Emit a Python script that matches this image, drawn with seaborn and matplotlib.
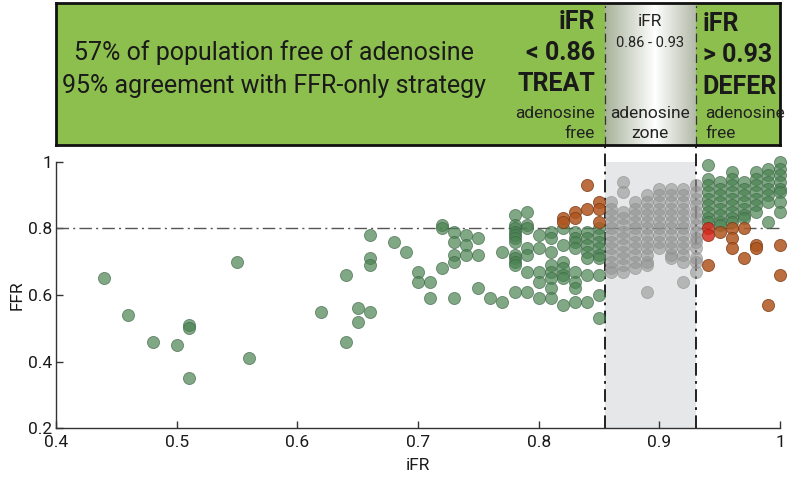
import numpy as np
import pandas as pd
import matplotlib
matplotlib.use("Agg")
import matplotlib.pyplot as plt
import seaborn as sns
from matplotlib.colors import LinearSegmentedColormap

# ---------------- data ----------------
green_ifr = [0.44, 0.46, 0.48, 0.50, 0.51, 0.51, 0.51, 0.55, 0.56, 0.62, 0.64, 0.64, 0.65, 0.65,
             0.66, 0.66, 0.66, 0.66, 0.68, 0.69, 0.70, 0.70, 0.71, 0.71, 0.72, 0.72, 0.72,
             0.73, 0.73, 0.73, 0.73, 0.73, 0.74, 0.74, 0.74, 0.75, 0.75, 0.75, 0.76, 0.77, 0.77,
             0.78, 0.78, 0.78, 0.78, 0.78, 0.78, 0.78, 0.78, 0.78, 0.78, 0.78, 0.78,
             0.79, 0.79, 0.79, 0.79, 0.79, 0.79, 0.79,
             0.80, 0.80, 0.80, 0.80, 0.80,
             0.81, 0.81, 0.81, 0.81, 0.81, 0.81, 0.81, 0.81,
             0.82, 0.82, 0.82, 0.82, 0.82, 0.82, 0.82,
             0.83, 0.83, 0.83, 0.83, 0.83, 0.83, 0.83, 0.83,
             0.84, 0.84, 0.84, 0.84, 0.84, 0.84, 0.84,
             0.85, 0.85, 0.85, 0.85, 0.85, 0.85, 0.85, 0.85, 0.85,
             0.94, 0.94, 0.94, 0.94, 0.94, 0.94, 0.94, 0.94, 0.94,
             0.95, 0.95, 0.95, 0.95, 0.95, 0.95, 0.95, 0.95,
             0.96, 0.96, 0.96, 0.96, 0.96, 0.96, 0.96, 0.96, 0.96,
             0.97, 0.97, 0.97, 0.97, 0.97, 0.97, 0.97,
             0.98, 0.98, 0.98, 0.98, 0.98, 0.98, 0.98,
             0.99, 0.99, 0.99, 0.99, 0.99, 0.99, 0.99,
             1.00, 1.00, 1.00, 1.00, 1.00, 1.00, 1.00, 1.00]
green_ffr = [0.65, 0.54, 0.46, 0.45, 0.51, 0.50, 0.35, 0.70, 0.41, 0.55, 0.66, 0.46, 0.56, 0.52,
             0.78, 0.71, 0.69, 0.55, 0.76, 0.73, 0.67, 0.64, 0.64, 0.59, 0.81, 0.80, 0.68,
             0.79, 0.76, 0.72, 0.70, 0.59, 0.78, 0.75, 0.72, 0.77, 0.72, 0.62, 0.59, 0.73, 0.58,
             0.84, 0.81, 0.80, 0.79, 0.78, 0.77, 0.76, 0.72, 0.71, 0.70, 0.69, 0.61,
             0.85, 0.81, 0.80, 0.74, 0.72, 0.67, 0.61,
             0.78, 0.74, 0.67, 0.64, 0.59,
             0.79, 0.77, 0.73, 0.69, 0.67, 0.65, 0.62, 0.59,
             0.80, 0.75, 0.70, 0.68, 0.66, 0.65, 0.57,
             0.79, 0.77, 0.76, 0.74, 0.67, 0.64, 0.62, 0.58,
             0.79, 0.77, 0.75, 0.73, 0.71, 0.66, 0.58,
             0.80, 0.78, 0.76, 0.74, 0.72, 0.71, 0.66, 0.60, 0.53,
             0.99, 0.95, 0.93, 0.91, 0.89, 0.87, 0.85, 0.83, 0.82,
             0.94, 0.92, 0.90, 0.88, 0.86, 0.84, 0.82, 0.81,
             0.97, 0.95, 0.93, 0.91, 0.89, 0.87, 0.85, 0.83, 0.82,
             0.94, 0.92, 0.90, 0.88, 0.86, 0.84, 0.83,
             0.97, 0.95, 0.93, 0.91, 0.89, 0.87, 0.85,
             0.98, 0.96, 0.94, 0.92, 0.90, 0.88, 0.82,
             1.00, 0.98, 0.96, 0.94, 0.92, 0.91, 0.88, 0.85]

gray_ifr = [0.86] * 12 + [0.87] * 12 + [0.88] * 11 + [0.89] * 13 + [0.90] * 10 + [0.91] * 12 + [0.92] * 13 + [0.93] * 14
gray_ffr = [0.88, 0.86, 0.84, 0.82, 0.80, 0.78, 0.76, 0.74, 0.72, 0.70, 0.68, 0.67,
            0.94, 0.91, 0.85, 0.83, 0.81, 0.79, 0.77, 0.75, 0.73, 0.71, 0.69, 0.67,
            0.88, 0.86, 0.84, 0.82, 0.80, 0.78, 0.76, 0.74, 0.72, 0.70, 0.68,
            0.90, 0.88, 0.86, 0.84, 0.82, 0.80, 0.78, 0.76, 0.74, 0.72, 0.70, 0.69, 0.61,
            0.92, 0.90, 0.88, 0.86, 0.84, 0.82, 0.80, 0.78, 0.76, 0.74,
            0.92, 0.90, 0.88, 0.86, 0.84, 0.82, 0.80, 0.78, 0.76, 0.74, 0.72, 0.71,
            0.92, 0.90, 0.88, 0.86, 0.84, 0.82, 0.80, 0.78, 0.76, 0.74, 0.72, 0.70, 0.64,
            0.93, 0.91, 0.89, 0.87, 0.85, 0.83, 0.81, 0.79, 0.77, 0.76, 0.74, 0.71, 0.70, 0.67]

orange_ifr = [0.82, 0.82, 0.83, 0.83, 0.84, 0.84, 0.85, 0.85, 0.85,
              0.94, 0.95, 0.96, 0.96, 0.96, 0.97, 0.97, 0.98, 0.98, 0.99, 1.00, 1.00]
orange_ffr = [0.83, 0.82, 0.85, 0.83, 0.93, 0.86, 0.88, 0.86, 0.82,
              0.69, 0.79, 0.80, 0.77, 0.74, 0.80, 0.71, 0.75, 0.74, 0.57, 0.75, 0.66]

red_ifr = [0.94, 0.94]
red_ffr = [0.80, 0.78]

x_ticks = [0.4, 0.5, 0.6, 0.7, 0.8, 0.9, 1.0]
x_tick_labels = ["0.4", "0.5", "0.6", "0.7", "0.8", "0.9", "1"]
y_ticks = [0.2, 0.4, 0.6, 0.8, 1.0]
y_tick_labels = ["0.2", "0.4", "0.6", "0.8", "1"]
zone_lo, zone_hi = 0.855, 0.93
ffr_cut = 0.8

df = pd.concat([
    pd.DataFrame({"iFR": gray_ifr, "FFR": gray_ffr, "group": "zone"}),
    pd.DataFrame({"iFR": green_ifr, "FFR": green_ffr, "group": "agree"}),
    pd.DataFrame({"iFR": orange_ifr, "FFR": orange_ffr, "group": "disagree"}),
    pd.DataFrame({"iFR": red_ifr, "FFR": red_ffr, "group": "red"}),
], ignore_index=True)

# ---------------- style ----------------
sns.set_style("white")
plt.rcParams["font.family"] = ["Roboto", "DejaVu Sans"]
TXT = "#1a1a1a"

fig = plt.figure(figsize=(8, 4.82), dpi=100)
ax = fig.add_axes([0.07, 0.112, 0.905, 0.552])

ax.axvspan(zone_lo, zone_hi, color="#e6e7e8", lw=0, zorder=0)
ax.axhline(ffr_cut, color="#555555", lw=1.0, ls=(0, (9, 3, 1.5, 3)), zorder=1)
for xv in (zone_lo, zone_hi):
    ax.axvline(xv, ymin=0, ymax=1.064, color="#111111", lw=1.3,
               ls=(0, (7, 3, 1.5, 3)), clip_on=False, zorder=1)

styles = {
    "zone": dict(color="#949494", edgecolor="#8c8c8c", alpha=0.6, zorder=2),
    "agree": dict(color="#4a8352", edgecolor="#3e6446", alpha=0.7, zorder=3),
    "disagree": dict(color="#b0561f", edgecolor="#7a3a15", alpha=0.85, zorder=4),
    "red": dict(color="#d42b1e", edgecolor="#8a2a15", alpha=0.85, zorder=5),
}
for grp, st in styles.items():
    sns.scatterplot(data=df[df["group"] == grp], x="iFR", y="FFR", s=76,
                    linewidth=0.6, legend=False, clip_on=False, ax=ax, **st)

ax.set_xlim(0.4, 1.0)
ax.set_ylim(0.2, 1.0)
ax.set_xticks(x_ticks)
ax.set_xticklabels(x_tick_labels)
ax.set_yticks(y_ticks)
ax.set_yticklabels(y_tick_labels)
ax.tick_params(direction="in", length=5, width=1, color="#333333", labelsize=12.5,
               labelcolor=TXT, bottom=True, left=True)
ax.tick_params(axis="x", pad=5)
ax.tick_params(axis="y", pad=3)
for side in ("top", "right"):
    ax.spines[side].set_visible(False)
for side in ("left", "bottom"):
    ax.spines[side].set_color("#333333")
    ax.spines[side].set_linewidth(1.0)
ax.set_xlabel("iFR", fontsize=12.5, color=TXT, labelpad=6)
ax.set_ylabel("FFR", fontsize=12.5, color=TXT, labelpad=2)

# ---------------- banner ----------------
axb = fig.add_axes([0.07, 1 - 145 / 482, 0.905, 142 / 482])
axb.set_facecolor("#8cbf4d")
axb.set_xticks([])
axb.set_yticks([])
for sp in axb.spines.values():
    sp.set_color("#111111")
    sp.set_linewidth(2)

cmap = LinearSegmentedColormap.from_list("zone", [(0, "#a7b29a"), (0.55, "#ffffff"), (1, "#b3baa8")])
grad = np.linspace(0, 1, 256)[None, :]
axb.imshow(grad, extent=[zone_lo, zone_hi, 145, 3], aspect="auto", cmap=cmap, zorder=0.5)
axb.set_xlim(0.4, 1.0)
axb.set_ylim(145, 3)
for xv in (zone_lo, zone_hi):
    axb.axvline(xv, color="#333333", lw=0.9, ls=(0, (7, 4, 1.5, 4)), zorder=1)

axb.text(0.581, 53, "57% of population free of adenosine", ha="center", va="center",
         fontsize=18, color=TXT)
axb.text(0.581, 86, "95% agreement with FFR-only strategy", ha="center", va="center",
         fontsize=18, color=TXT)

xl = 0.8466
for y, t in ((22, "iFR"), (53, "< 0.86"), (84, "TREAT")):
    axb.text(xl, y, t, ha="right", va="center", fontsize=18, fontweight="bold", color=TXT)
for y, t in ((114, "adenosine"), (133, "free")):
    axb.text(xl, y, t, ha="right", va="center", fontsize=12.5, color="#222222")

xm = 0.892
axb.text(xm, 22, "iFR", ha="center", va="center", fontsize=12.5, color="#222222")
axb.text(xm, 43, "0.86 - 0.93", ha="center", va="center", fontsize=10.5, color="#222222")
axb.text(xm, 114, "adenosine", ha="center", va="center", fontsize=12.5, color="#222222")
axb.text(xm, 133, "zone", ha="center", va="center", fontsize=12.5, color="#222222")

xr = 0.936
for y, t in ((24, "iFR"), (55, "> 0.93"), (87, "DEFER")):
    axb.text(xr, y, t, ha="left", va="center", fontsize=18, fontweight="bold", color=TXT)
for y, t in ((114, "adenosine"), (133, "free")):
    axb.text(xr + 0.002, y, t, ha="left", va="center", fontsize=12.5, color="#222222")

fig.savefig("out.png", dpi=100)
